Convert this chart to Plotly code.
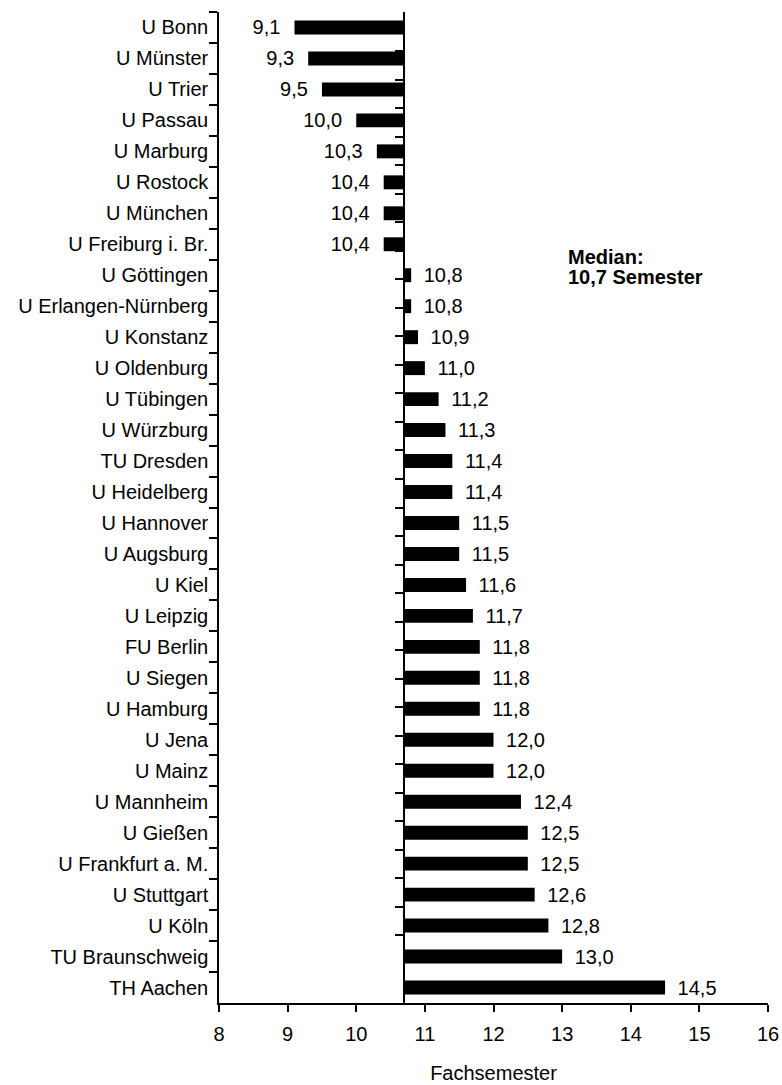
import plotly.graph_objects as go

categories = ["U Bonn", "U Münster", "U Trier", "U Passau", "U Marburg", "U Rostock",
              "U München", "U Freiburg i. Br.", "U Göttingen", "U Erlangen-Nürnberg",
              "U Konstanz", "U Oldenburg", "U Tübingen", "U Würzburg", "TU Dresden",
              "U Heidelberg", "U Hannover", "U Augsburg", "U Kiel", "U Leipzig",
              "FU Berlin", "U Siegen", "U Hamburg", "U Jena", "U Mainz", "U Mannheim",
              "U Gießen", "U Frankfurt a. M.", "U Stuttgart", "U Köln",
              "TU Braunschweig", "TH Aachen"]
values = [9.1, 9.3, 9.5, 10.0, 10.3, 10.4, 10.4, 10.4, 10.8, 10.8, 10.9, 11.0, 11.2,
          11.3, 11.4, 11.4, 11.5, 11.5, 11.6, 11.7, 11.8, 11.8, 11.8, 12.0, 12.0, 12.4,
          12.5, 12.5, 12.6, 12.8, 13.0, 14.5]
median = 10.7
x_range = [8, 16]
x_ticks = list(range(8, 17))

FONT = "Liberation Sans, Arial, sans-serif"


def fmt(v):
    s = f"{v:.1f}".replace(".", ",")
    return s + "\u00a0\u00a0" if v < median else "\u00a0\u2009" + s


labels = [fmt(v) for v in values]
deltas = [round(v - median, 4) for v in values]

fig = go.Figure()
fig.add_trace(go.Bar(
    y=categories, x=deltas, base=median, orientation="h",
    marker=dict(color="black", line=dict(width=0)),
    width=0.45,
    text=labels, textposition="outside", cliponaxis=False, constraintext="none",
    textfont=dict(family=FONT, size=20, color="black"),
    hoverinfo="skip", showlegend=False,
))
# invisible trace for the median axis
fig.add_trace(go.Scatter(
    y=categories, x=[median] * len(categories), yaxis="y2", mode="markers",
    marker=dict(opacity=0), hoverinfo="skip", showlegend=False,
))

med_pos = (median - x_range[0]) / (x_range[1] - x_range[0])

fig.update_layout(
    width=782, height=1085,
    margin=dict(l=219, r=14, t=12, b=82),
    plot_bgcolor="white", paper_bgcolor="white",
    font=dict(family=FONT, size=20, color="black"),
    bargap=0.55,
    xaxis=dict(
        range=x_range, tickvals=x_ticks, showgrid=False, zeroline=False,
        showline=True, linecolor="black", linewidth=1.5, automargin=False,
        ticks="outside", ticklen=7, tickwidth=1.5, tickcolor="black",
        tickfont=dict(size=20), ticklabelstandoff=5,
        title=dict(text="Fachsemester", font=dict(size=20), standoff=22),
    ),
    yaxis=dict(
        type="category", categoryorder="array", categoryarray=categories,
        autorange="reversed", showgrid=False, zeroline=False, automargin=False,
        showline=True, linecolor="black", linewidth=1.5,
        ticks="outside", tickson="boundaries", ticklen=8, tickwidth=1.5,
        tickcolor="black", tickfont=dict(size=20), ticklabelstandoff=5,
    ),
    yaxis2=dict(
        type="category", categoryorder="array", categoryarray=categories,
        autorange="reversed", overlaying="y", anchor="free", position=med_pos,
        side="left", showgrid=False, zeroline=False, automargin=False,
        showline=True, linecolor="black", linewidth=2,
        ticks="outside", tickson="boundaries", ticklen=8, tickwidth=1.5,
        tickcolor="black", showticklabels=False,
    ),
    annotations=[
        dict(text="<b>Median:</b>", xref="paper", yref="paper",
             x=0.632, y=0.753, xanchor="left", yanchor="middle", align="left",
             showarrow=False, font=dict(size=20, color="black")),
        dict(text="<b>10,7 Semester</b>", xref="paper", yref="paper",
             x=0.632, y=0.733, xanchor="left", yanchor="middle", align="left",
             showarrow=False, font=dict(size=20, color="black")),
    ],
)

fig.write_html(
    "out.html",
    config={"displayModeBar": False},
    post_script="document.body.style.margin='0';document.body.style.overflow='hidden';",
)
